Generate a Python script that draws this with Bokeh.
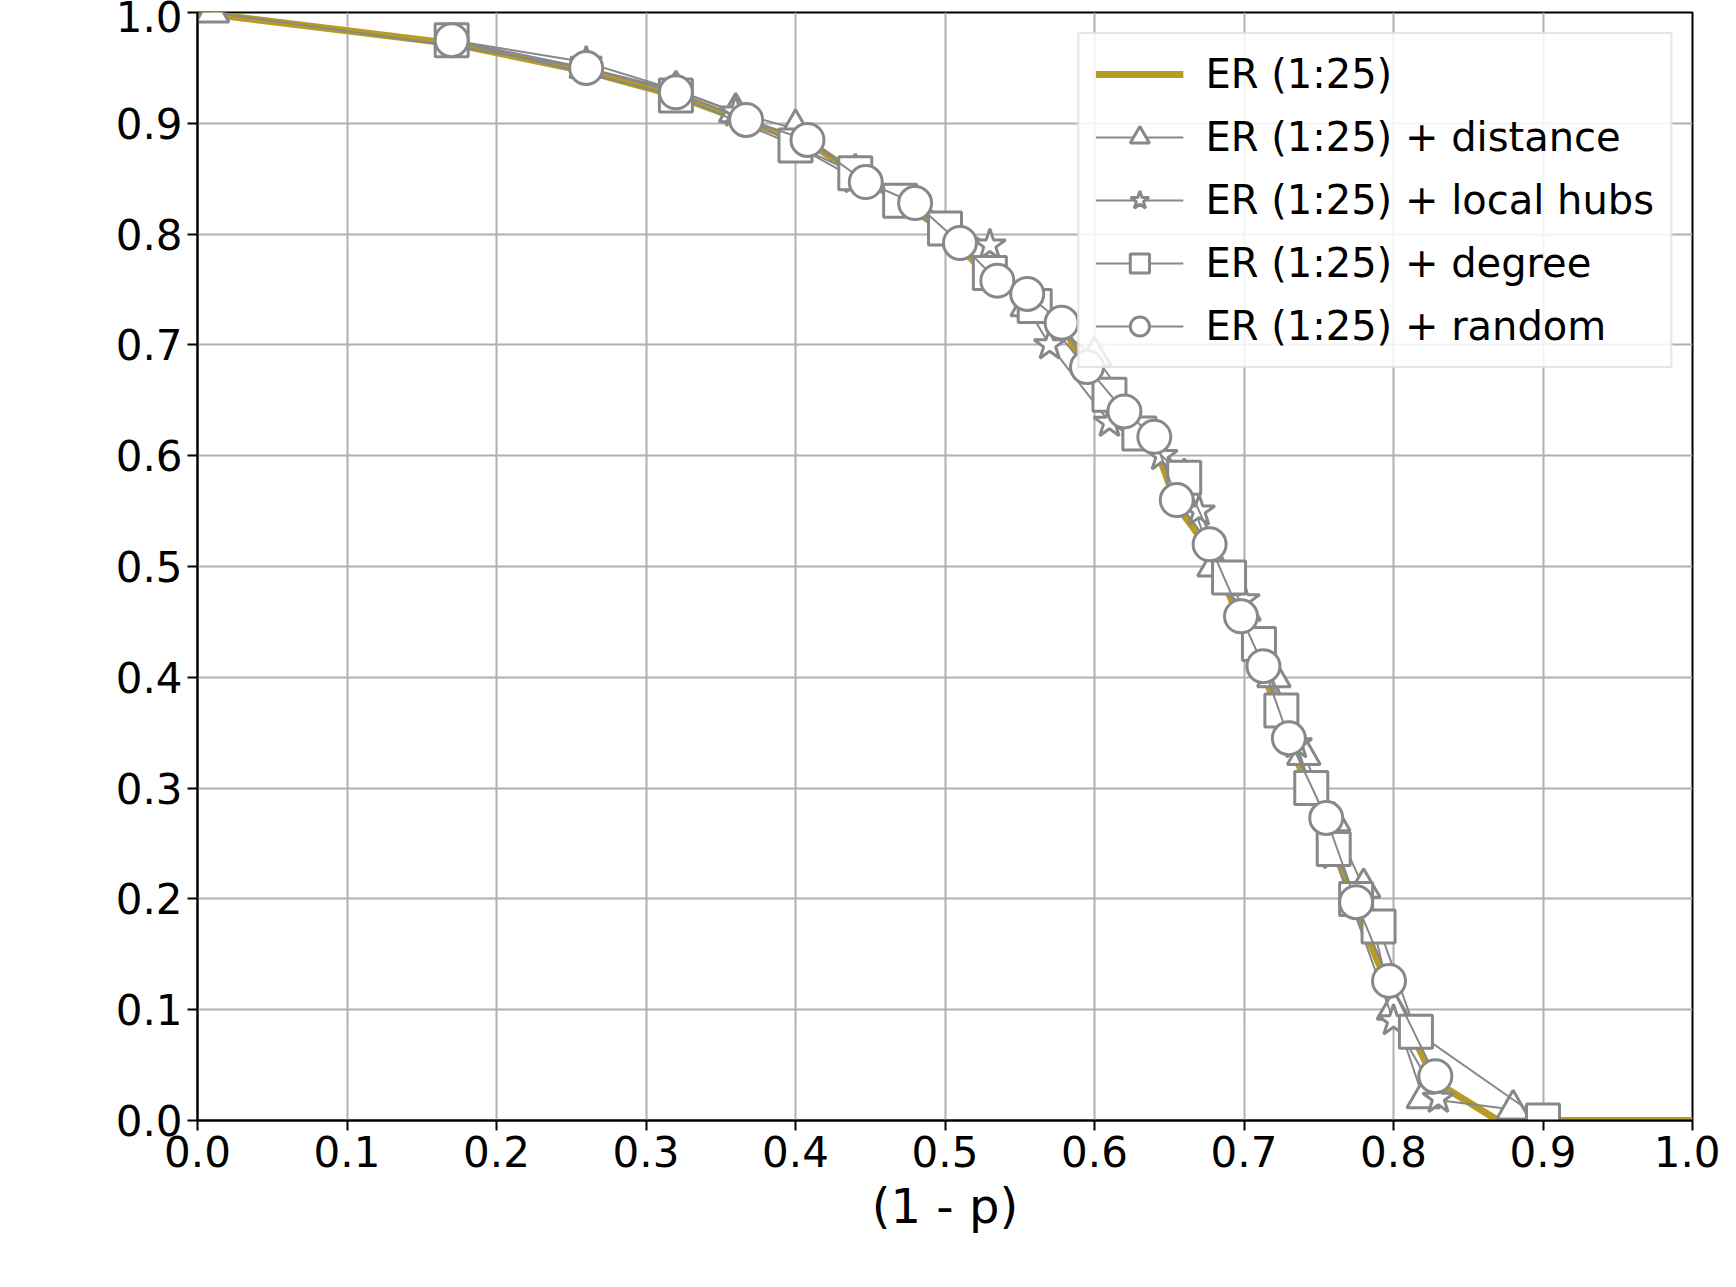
from bokeh.plotting import figure
from bokeh.models import Legend, LegendItem, Label, Range1d, FixedTicker
from bokeh.embed import file_html
from bokeh.resources import INLINE

er_x = [0.0, 0.17, 0.26, 0.32, 0.37, 0.41, 0.45, 0.48, 0.51, 0.535, 0.555, 0.58, 0.595, 0.62, 0.64, 0.655, 0.677, 0.698, 0.713, 0.73, 0.755, 0.775, 0.797, 0.828, 0.87, 1.0]
er_y = [1.0, 0.972, 0.947, 0.925, 0.9, 0.882, 0.845, 0.825, 0.788, 0.754, 0.742, 0.715, 0.675, 0.635, 0.612, 0.555, 0.515, 0.45, 0.405, 0.34, 0.268, 0.19, 0.12, 0.035, 0.0, 0.0]

dist_x = [0.01, 0.17, 0.26, 0.32, 0.36, 0.40, 0.44, 0.50, 0.555, 0.60, 0.66, 0.68, 0.70, 0.72, 0.74, 0.76, 0.78, 0.80, 0.82, 0.88]
dist_y = [1.0, 0.97, 0.95, 0.93, 0.91, 0.895, 0.855, 0.8, 0.735, 0.69, 0.58, 0.5, 0.46, 0.40, 0.33, 0.27, 0.21, 0.10, 0.02, 0.01]
hubs_x = [0.17, 0.26, 0.32, 0.36, 0.44, 0.48, 0.53, 0.57, 0.61, 0.645, 0.67, 0.70, 0.735, 0.76, 0.80, 0.83]
hubs_y = [0.975, 0.955, 0.93, 0.91, 0.85, 0.83, 0.79, 0.70, 0.63, 0.60, 0.55, 0.47, 0.34, 0.24, 0.09, 0.02]
deg_x = [0.17, 0.32, 0.40, 0.44, 0.47, 0.50, 0.53, 0.56, 0.61, 0.63, 0.66, 0.69, 0.71, 0.725, 0.745, 0.76, 0.775, 0.79, 0.815, 0.90]
deg_y = [0.975, 0.925, 0.88, 0.855, 0.83, 0.805, 0.765, 0.735, 0.655, 0.62, 0.58, 0.49, 0.43, 0.37, 0.3, 0.245, 0.2, 0.175, 0.08, 0.0]
rand_x = [0.17, 0.26, 0.32, 0.367, 0.408, 0.447, 0.48, 0.51, 0.535, 0.555, 0.578, 0.595, 0.62, 0.64, 0.655, 0.677, 0.698, 0.713, 0.73, 0.755, 0.775, 0.797, 0.828]
rand_y = [0.975, 0.95, 0.928, 0.903, 0.885, 0.847, 0.828, 0.792, 0.758, 0.746, 0.72, 0.68, 0.64, 0.617, 0.56, 0.52, 0.455, 0.41, 0.345, 0.273, 0.197, 0.126, 0.04]

ticks = [i / 10 for i in range(11)]
GOLD = "#b89b24"
GRAY = "#888888"

p = figure(width=1720, height=1270, output_backend="svg", toolbar_location=None,
           x_range=Range1d(0, 1), y_range=Range1d(0, 1),
           min_border_left=197, min_border_right=28, min_border_top=12, min_border_bottom=150)
p.outline_line_color = "black"
p.outline_line_width = 2
for ax in (p.xaxis, p.yaxis):
    ax.ticker = FixedTicker(ticks=ticks)
    ax.major_label_text_font = "DejaVu Sans"
    ax.major_label_text_font_size = "42px"
    ax.major_label_text_color = "black"
    ax.axis_line_width = 2
    ax.major_tick_line_width = 2
    ax.major_tick_out = 10
    ax.major_tick_in = 0
    ax.minor_tick_line_color = None
p.xaxis.major_label_overrides = {t: f"{t:.1f}" for t in ticks}
p.yaxis.major_label_overrides = {t: f"{t:.1f}" for t in ticks}
p.xaxis.axis_label = "(1 - p)"
p.xaxis.axis_label_text_font = "DejaVu Sans"
p.xaxis.axis_label_text_font_style = "normal"
p.xaxis.axis_label_text_font_size = "48px"
p.xaxis.axis_label_text_color = "black"
p.xaxis.axis_label_standoff = 8
p.grid.grid_line_color = "#b0b0b0"
p.grid.grid_line_width = 2
p.grid.grid_line_alpha = 1

r_er = p.line(er_x, er_y, line_color=GOLD, line_width=7)
items = [LegendItem(label="ER (1:25)", renderers=[r_er])]
for xs, ys, mk, name in [(dist_x, dist_y, "triangle", "distance"),
                         (hubs_x, hubs_y, "star", "local hubs"),
                         (deg_x, deg_y, "square", "degree"),
                         (rand_x, rand_y, "circle", "random")]:
    l = p.line(xs, ys, line_color=GRAY, line_width=2)
    s = p.scatter(xs, ys, marker=mk, size=33, fill_color="white", line_color=GRAY, line_width=3)
    items.append(LegendItem(label=f"ER (1:25) + {name}", renderers=[l, s]))

leg = Legend(items=items, location="top_right", label_text_font="DejaVu Sans",
             label_text_font_size="40px", label_text_color="black",
             glyph_width=88, glyph_height=48, label_height=48, label_standoff=22,
             spacing=15, padding=16, margin=20,
             border_line_color="#cccccc", border_line_width=2, background_fill_alpha=0.85)
p.add_layout(leg)

p.add_layout(Label(x=-128, y=525, x_units="screen", y_units="screen", text="G", angle=1.5708,
                   text_font="DejaVu Sans", text_font_style="italic", text_font_size="62px"))
p.add_layout(Label(x=-118, y=568, x_units="screen", y_units="screen", text="L", angle=1.5708,
                   text_font="DejaVu Sans", text_font_style="italic", text_font_size="42px"))

open("out.html", "w").write(file_html(p, INLINE))
